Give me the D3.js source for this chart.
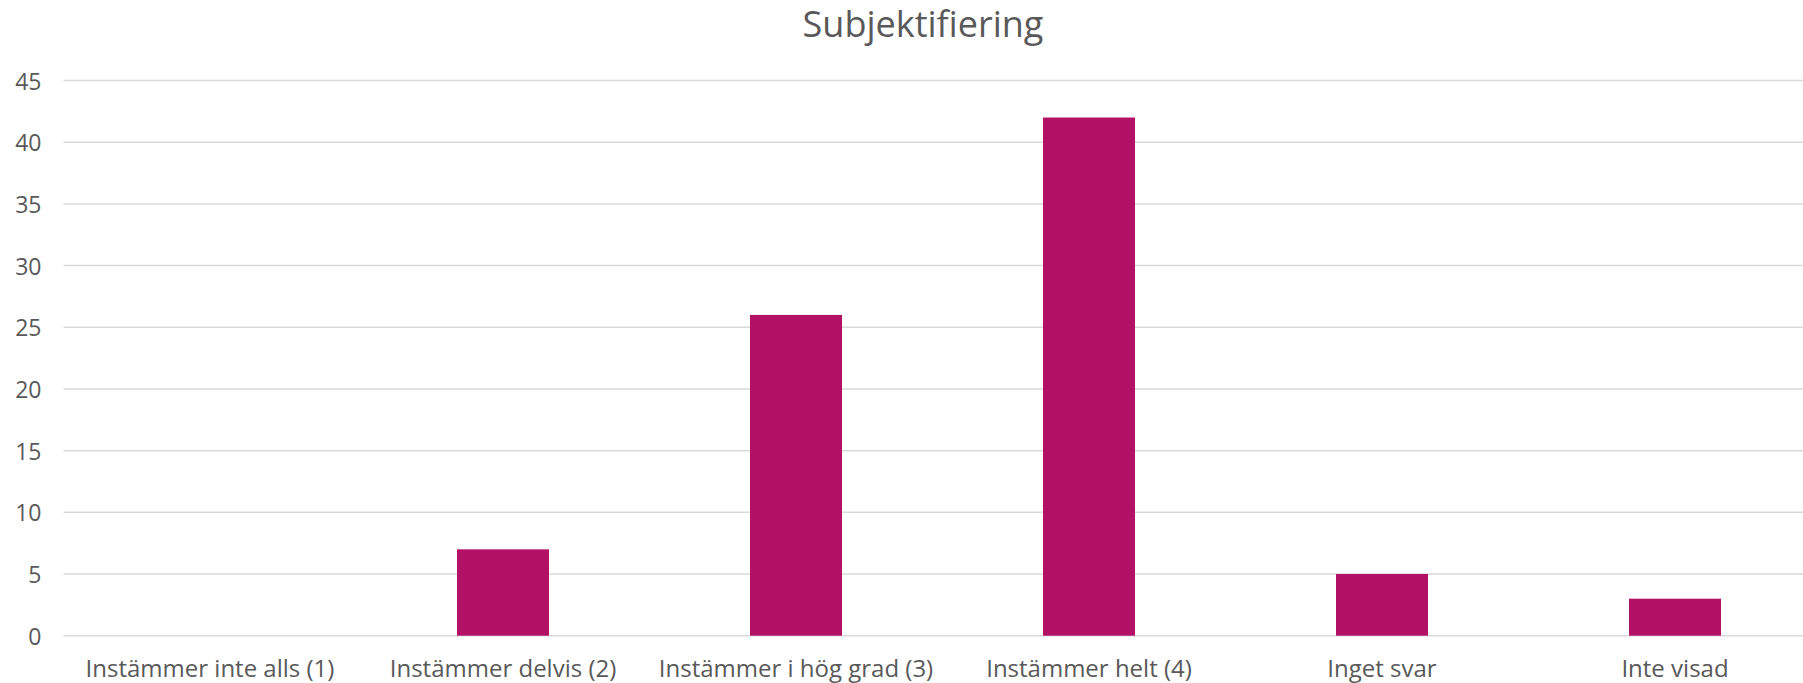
<!DOCTYPE html>
<html>
<head>
<meta charset="utf-8">
<script src="https://cdn.jsdelivr.net/npm/d3@7"></script>
<style>
  html, body { margin: 0; padding: 0; background: #fff; overflow: hidden; }
  svg { display: block; }
  text { font-family: "Open Sans", "DejaVu Sans", sans-serif; fill: #595959; }
</style>
</head>
<body>
<svg id="chart" width="1803" height="683"></svg>
<script>
const title = "Subjektifiering";
const categories = ["Instämmer inte alls (1)", "Instämmer delvis (2)", "Instämmer i hög grad (3)", "Instämmer helt (4)", "Inget svar", "Inte visad"];
const values = [0, 7, 26, 42, 5, 3];
const yTicks = [0, 5, 10, 15, 20, 25, 30, 35, 40, 45];

const svg = d3.select("#chart");
const plot = { left: 63.5, right: 1821.5, top: 80.5, bottom: 635.7 };

const x = d3.scaleBand().domain(categories).range([plot.left, plot.right])
  .paddingInner(0.686).paddingOuter(0.343);
const y = d3.scaleLinear().domain([0, 45]).range([plot.bottom, plot.top]);

// gridlines
svg.append("g").selectAll("line").data(yTicks).join("line")
  .attr("x1", plot.left).attr("x2", plot.right)
  .attr("y1", d => y(d)).attr("y2", d => y(d))
  .attr("stroke", "#d9d9d9").attr("stroke-width", 1.5);

// y labels
svg.append("g").selectAll("text").data(yTicks).join("text")
  .attr("x", 41.5).attr("y", d => y(d))
  .attr("text-anchor", "end").attr("dominant-baseline", "central")
  .attr("font-size", 23).text(d => d);

// bars
svg.append("g").selectAll("rect").data(values).join("rect")
  .attr("x", (d, i) => x(categories[i]))
  .attr("width", x.bandwidth())
  .attr("y", d => y(d))
  .attr("height", d => y(0) - y(d))
  .attr("fill", "#B31166");

// x labels
svg.append("g").selectAll("text").data(categories).join("text")
  .attr("x", d => x(d) + x.bandwidth() / 2).attr("y", 676.5)
  .attr("text-anchor", "middle").attr("font-size", 24).text(d => d);

// title
svg.append("text").attr("x", 923).attr("y", 36.5)
  .attr("text-anchor", "middle").attr("font-size", 36).text(title);
</script>
</body>
</html>
